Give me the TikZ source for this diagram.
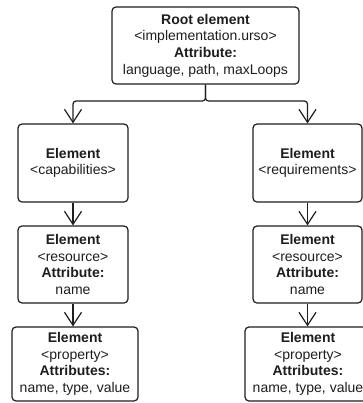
\documentclass[tikz,border=0pt]{standalone}
\usepackage{fontspec}
\setmainfont{Liberation Sans}
\usetikzlibrary{arrows.meta}
\definecolor{ink}{HTML}{1E1E1E}
\begin{document}
\begin{tikzpicture}[x=1bp,y=-1bp,
  box/.style={draw=ink, line width=1.2bp, rounded corners=4bp, fill=white,
    align=center, inner sep=0pt, font=\fontsize{14bp}{16.7bp}\selectfont, text=ink},
  conn/.style={draw=ink, line width=1.2bp, -{Straight Barb[length=13bp,width=17bp,line width=1.2bp]}}]
\useasboundingbox (0,0) rectangle (363,403);
\node[box, minimum width=187bp, minimum height=77bp] (root) at (205.5,45.5)
  {\textbf{Root element}\\<implementation.urso>\\\textbf{Attribute:}\\language, path, maxLoops};
\node[box, minimum width=110bp, minimum height=78bp] (cap) at (73,163)
  {\textbf{Element}\\<capabilities>};
\node[box, minimum width=110bp, minimum height=77bp] (res1) at (73,264.5)
  {\textbf{Element}\\<resource>\\\textbf{Attribute:}\\name};
\node[box, minimum width=126bp, minimum height=74bp] (prop1) at (75,364)
  {\textbf{Element}\\<property>\\\textbf{Attributes:}\\name, type, value};
\node[box, minimum width=109bp, minimum height=78bp] (req) at (307.5,163)
  {\textbf{Element}\\<requirements>};
\node[box, minimum width=109bp, minimum height=77bp] (res2) at (307.5,264.5)
  {\textbf{Element}\\<resource>\\\textbf{Attribute:}\\name};
\node[box, minimum width=126bp, minimum height=74bp] (prop2) at (308,364)
  {\textbf{Element}\\<property>\\\textbf{Attributes:}\\name, type, value};
\coordinate (j) at (205.5,101);
\draw[conn, rounded corners=3bp] (root.south) -- (j) -| (cap.north);
\draw[conn, rounded corners=3bp] (root.south) -- (j) -| (req.north);
\draw[conn] (cap.south) -- (res1.north);
\draw[conn] (req.south) -- (res2.north);
\draw[conn] (res1.south) -- (res1.south |- prop1.north);
\draw[conn] (res2.south) -- (res2.south |- prop2.north);
\end{tikzpicture}
\end{document}
